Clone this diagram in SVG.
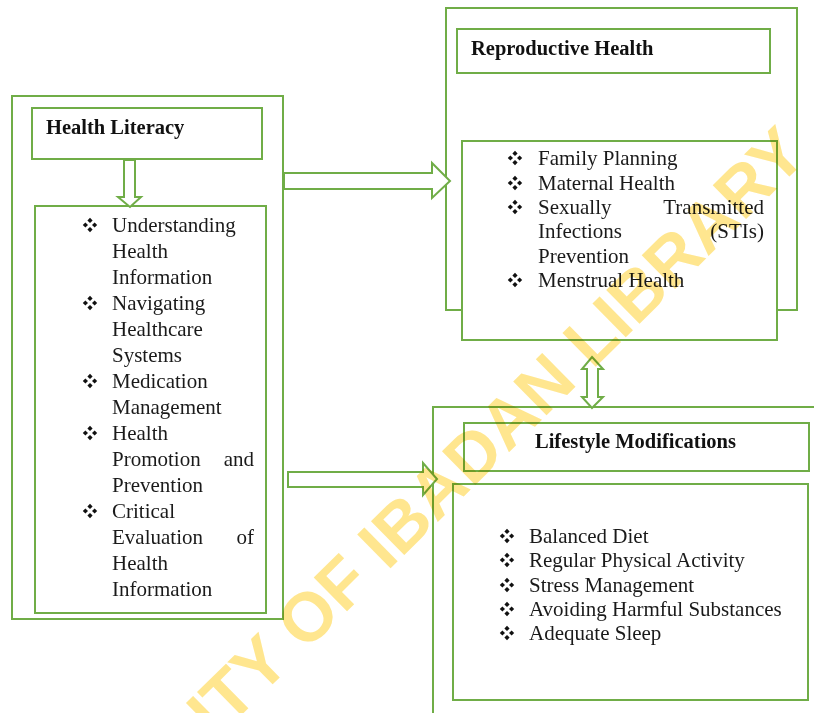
<svg xmlns="http://www.w3.org/2000/svg" width="814" height="713" viewBox="0 0 814 713">
  <style>
    .box { fill: #ffffff; stroke: #70AD47; stroke-width: 2; }
    .arrow { fill: #ffffff; stroke: #70AD47; stroke-width: 2; stroke-linejoin: miter; }
    .title { font-family: "Liberation Serif", "Times New Roman", serif; font-weight: bold; font-size: 20.5px; fill: #111111; }
    .item { font-family: "Liberation Serif", "Times New Roman", serif; font-size: 21px; fill: #1a1a1a; }
    .end { text-anchor: end; }
    .dot { fill: #111111; }
    .mark { font-family: "Liberation Sans", Arial, sans-serif; font-weight: bold; font-size: 69px; fill: #FFE68F; mix-blend-mode: multiply; }
  </style>
  <defs>
    <!-- four-diamond list bullet -->
    <symbol id="bullet" viewBox="-8 -8 16 16" width="16" height="16" overflow="visible">
      <path class="dot" d="M0,-7.2 L2.6,-4.6 L0,-2 L-2.6,-4.6 Z"/>
      <path class="dot" d="M0,2 L2.6,4.6 L0,7.2 L-2.6,4.6 Z"/>
      <path class="dot" d="M-7.2,0 L-4.6,-2.6 L-2,0 L-4.6,2.6 Z"/>
      <path class="dot" d="M2,0 L4.6,-2.6 L7.2,0 L4.6,2.6 Z"/>
    </symbol>
  </defs>

  <rect width="814" height="713" fill="#ffffff"/>

  <!-- Health Literacy -->
  <g id="health-literacy">
    <rect class="box" x="12" y="96" width="271" height="523"/>
    <rect class="box" x="32" y="108" width="230" height="51"/>
    <text class="title" x="46" y="134">Health Literacy</text>
    <rect class="box" x="35" y="206" width="231" height="407"/>
    <use href="#bullet" x="82" y="217"/>
    <text class="item" x="112" y="232">Understanding</text>
    <text class="item" x="112" y="258">Health</text>
    <text class="item" x="112" y="284">Information</text>
    <use href="#bullet" x="82" y="295"/>
    <text class="item" x="112" y="310">Navigating</text>
    <text class="item" x="112" y="336">Healthcare</text>
    <text class="item" x="112" y="362">Systems</text>
    <use href="#bullet" x="82" y="373"/>
    <text class="item" x="112" y="388">Medication</text>
    <text class="item" x="112" y="414">Management</text>
    <use href="#bullet" x="82" y="425"/>
    <text class="item" x="112" y="440">Health</text>
    <text class="item" x="112" y="466">Promotion</text>
    <text class="item end" x="254" y="466">and</text>
    <text class="item" x="112" y="492">Prevention</text>
    <use href="#bullet" x="82" y="503"/>
    <text class="item" x="112" y="518">Critical</text>
    <text class="item" x="112" y="544">Evaluation</text>
    <text class="item end" x="254" y="544">of</text>
    <text class="item" x="112" y="570">Health</text>
    <text class="item" x="112" y="596">Information</text>
  </g>

  <!-- Reproductive Health -->
  <g id="reproductive-health">
    <rect class="box" x="446" y="8" width="351" height="302"/>
    <rect class="box" x="457" y="29" width="313" height="44"/>
    <text class="title" x="471" y="55">Reproductive Health</text>
    <rect class="box" x="462" y="141" width="315" height="199"/>
    <use href="#bullet" x="507" y="150"/>
    <text class="item" x="538" y="165">Family Planning</text>
    <use href="#bullet" x="507" y="175"/>
    <text class="item" x="538" y="190">Maternal Health</text>
    <use href="#bullet" x="507" y="199"/>
    <text class="item" x="538" y="214">Sexually</text>
    <text class="item end" x="764" y="214">Transmitted</text>
    <text class="item" x="538" y="238">Infections</text>
    <text class="item end" x="764" y="238">(STIs)</text>
    <text class="item" x="538" y="263">Prevention</text>
    <use href="#bullet" x="507" y="272"/>
    <text class="item" x="538" y="287">Menstrual Health</text>
  </g>

  <!-- Lifestyle Modifications -->
  <g id="lifestyle-modifications">
    <rect class="box" x="433" y="407" width="400" height="400"/>
    <rect class="box" x="464" y="423" width="345" height="48"/>
    <text class="title" x="535" y="448">Lifestyle Modifications</text>
    <rect class="box" x="453" y="484" width="355" height="216"/>
    <use href="#bullet" x="499" y="528"/>
    <text class="item" x="529" y="543">Balanced Diet</text>
    <use href="#bullet" x="499" y="552"/>
    <text class="item" x="529" y="567">Regular Physical Activity</text>
    <use href="#bullet" x="499" y="577"/>
    <text class="item" x="529" y="592">Stress Management</text>
    <use href="#bullet" x="499" y="601"/>
    <text class="item" x="529" y="616">Avoiding Harmful Substances</text>
    <use href="#bullet" x="499" y="625"/>
    <text class="item" x="529" y="640">Adequate Sleep</text>
  </g>

  <!-- Block arrows between the groups -->
  <g id="connectors">
    <polygon class="arrow" points="124,160 135,160 135,197 141,197 130,207 118,197 124,197"/>
    <polygon class="arrow" points="284,173 432,173 432,163 450,181 432,198 432,189 284,189"/>
    <polygon class="arrow" points="288,472 423,472 423,463 437,479 423,495 423,487 288,487"/>
    <polygon class="arrow" points="592,357 603,369 598,369 598,397 603,397 592,408 582,397 587,397 587,369 582,369"/>
  </g>

  <!-- Library watermark -->
  <text class="mark" x="216" y="740" transform="rotate(-44.5 216 740)">ITY OF IBADAN LIBRARY</text>
</svg>
